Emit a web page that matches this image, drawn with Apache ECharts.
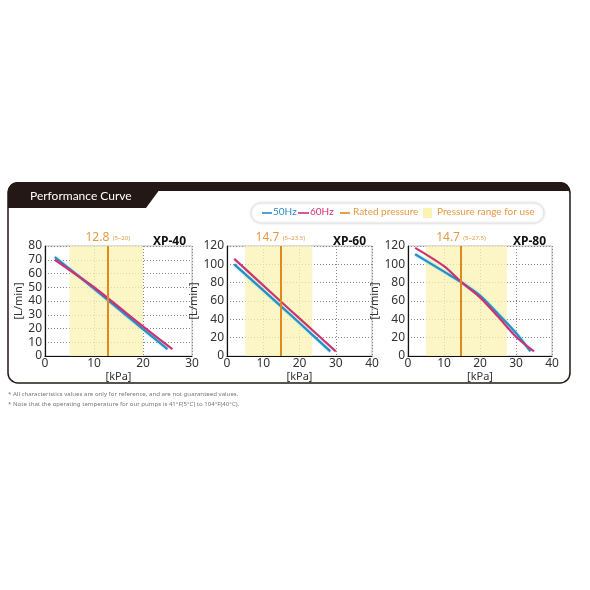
<!DOCTYPE html>
<html><head><meta charset="utf-8">
<script src="https://cdn.jsdelivr.net/npm/echarts@6/dist/echarts.min.js"></script>
<style>html,body{margin:0;padding:0;background:#fff}#c{width:590px;height:590px}</style>
</head><body><div id="c"></div>
<script>
// ---- data ----
var models = ['XP-40', 'XP-60', 'XP-80'];
var ratedPressure = [12.8, 14.7, 14.7];
var rangeText = ['5~20', '5~23.5', '5~27.5'];
var rangeStart = [5, 5, 5];
var rangeEnd = [20, 23.5, 27.5];
var xMax = [30, 40, 40];
var yMax = [80, 120, 120];
var yStep = [10, 20, 20];
var xp40_50 = [[2, 72], [10, 49], [20, 19.5], [25, 5]];
var xp40_60 = [[2, 70], [10, 50], [20, 21.5], [26, 5]];
var xp60_50 = [[2, 100], [14.7, 55], [20, 36], [28.5, 5]];
var xp60_60 = [[2, 106], [14.7, 60], [20, 41], [30, 5]];
var xp80_50 = [[2, 111], [10, 92], [15, 80], [20, 66], [25, 46], [30, 25], [34, 5]];
var xp80_60 = [[2, 118], [10, 98], [15, 80], [20, 64], [25, 43], [30, 21], [35, 5]];
var series50 = [xp40_50, xp60_50, xp80_50];
var series60 = [xp40_60, xp60_60, xp80_60];
var legendLabels = ['50Hz', '60Hz', 'Rated pressure', 'Pressure range for use'];
var footnotes = ['* All characteristics values are only for reference, and are not guaranteed values.',
                 '* Note that the operating temperature for our pumps is 41°F(5°C) to 104°F(40°C).'];

var C50 = '#2a8cc8', C60 = '#cc3371', CR = '#e0891e', CBAND = 'rgba(251,243,180,0.75)', CTXT = '#e49a45';
var FONT = 'Noto Sans';
var LFONT = 'Lato';
var grids = [
  {left: 45, top: 246, width: 147, height: 110},
  {left: 227, top: 246, width: 145, height: 110},
  {left: 408, top: 246, width: 144, height: 110}
];
var yNameGap = [17, 20, 20];

var chart = echarts.init(document.getElementById('c'));
var xAxes = [], yAxes = [], series = [], gridOpts = [];
for (var i = 0; i < 3; i++) {
  gridOpts.push(Object.assign({show: true, borderColor: '#bbb', borderWidth: 1, backgroundColor: 'transparent'}, grids[i]));
  xAxes.push({gridIndex: i, type: 'value', min: 0, max: xMax[i], interval: 10,
    name: '[kPa]', nameLocation: 'middle', nameGap: 15, nameTextStyle: {color: '#333', fontSize: 11, fontFamily: FONT},
    axisLine: {show: true, onZero: false, lineStyle: {color: '#111', width: 1.2}},
    axisTick: {show: false},
    axisLabel: {color: '#333', fontSize: 12, fontFamily: FONT, margin: 2},
    splitLine: {show: true, lineStyle: {color: '#888', type: [1, 2], width: 1}}});
  yAxes.push({gridIndex: i, type: 'value', min: 0, max: yMax[i], interval: yStep[i],
    name: '[L/min]', nameLocation: 'middle', nameGap: yNameGap[i], nameRotate: 90, nameTextStyle: {color: '#333', fontSize: 11, fontFamily: FONT},
    axisLine: {show: true, lineStyle: {color: '#111', width: 1.2}},
    axisTick: {show: false},
    axisLabel: {color: '#333', fontSize: 12, fontFamily: FONT, margin: 3},
    splitLine: {show: true, lineStyle: {color: '#888', type: [1, 2], width: 1}}});
  series.push({type: 'line', xAxisIndex: i, yAxisIndex: i, data: series50[i], symbol: 'none', smooth: i === 2 ? 0.3 : 0.15,
    lineStyle: {color: C50, width: 2.2, shadowColor: 'rgba(80,210,230,0.8)', shadowBlur: 2}, z: 3,
    markArea: {silent: true, itemStyle: {color: CBAND}, data: [[{xAxis: rangeStart[i]}, {xAxis: rangeEnd[i]}]]},
    markLine: {silent: true, symbol: 'none', lineStyle: {color: CR, width: 2, type: 'solid'},
      label: {show: true, position: 'end', distance: 2, formatter: '{a|' + ratedPressure[i] + '} {b|(' + rangeText[i] + ')}',
        rich: {a: {color: CTXT, fontSize: 12, fontFamily: FONT}, b: {color: CTXT, fontSize: 6, fontFamily: FONT}}},
      data: [{xAxis: ratedPressure[i]}]}});
  series.push({type: 'line', xAxisIndex: i, yAxisIndex: i, data: series60[i], symbol: 'none', smooth: i === 2 ? 0.3 : 0.15,
    lineStyle: {color: C60, width: 2.2}, z: 4});
}

var titles = [];
for (var j = 0; j < 3; j++) {
  titles.push({text: models[j], right: 590 - (grids[j].left + grids[j].width) + 1, top: 231,
    textStyle: {fontSize: 12, fontWeight: 'bold', color: '#111', fontFamily: FONT}});
}

var graphics = [
  {type: 'rect', shape: {x: 8, y: 183, width: 562, height: 200, r: 10}, style: {fill: '#fff', stroke: '#231815', lineWidth: 1.5}, z: -10},
  {type: 'rect', shape: {x: 8, y: 182, width: 562, height: 9, r: [10, 10, 0, 0]}, style: {fill: '#231815'}, z: -9},
  {type: 'polygon', shape: {points: [[8, 189], [160, 189], [146, 208], [8, 208]]}, style: {fill: '#231815'}, z: -9},
  {type: 'text', x: 30, y: 190, style: {text: 'Performance Curve', fill: '#fff', font: '12px "' + LFONT + '"'}, z: -8},
  {type: 'rect', shape: {x: 251, y: 203, width: 293, height: 20, r: 10}, style: {fill: '#fff', stroke: '#e2e2e2', lineWidth: 1, shadowBlur: 3, shadowColor: 'rgba(0,0,0,0.12)'}, z: -8},
  {type: 'line', shape: {x1: 262, y1: 213, x2: 272, y2: 213}, style: {stroke: C50, lineWidth: 1.6}},
  {type: 'text', x: 273, y: 207, style: {text: legendLabels[0], fill: C50, font: '10px "' + LFONT + '"'}},
  {type: 'line', shape: {x1: 298, y1: 213, x2: 309, y2: 213}, style: {stroke: C60, lineWidth: 1.6}},
  {type: 'text', x: 310, y: 207, style: {text: legendLabels[1], fill: C60, font: '10px "' + LFONT + '"'}},
  {type: 'line', shape: {x1: 340, y1: 213, x2: 350, y2: 213}, style: {stroke: CR, lineWidth: 1.6}},
  {type: 'text', x: 353, y: 207, style: {text: legendLabels[2], fill: CTXT, font: '10px "' + LFONT + '"'}},
  {type: 'rect', shape: {x: 423, y: 208, width: 9, height: 10}, style: {fill: 'rgba(251,243,180,1)'}},
  {type: 'text', x: 437, y: 207, style: {text: legendLabels[3], fill: CTXT, font: '10px "' + LFONT + '"'}},
  {type: 'text', x: 8, y: 391, style: {text: footnotes[0], fill: '#777', font: '6.1px "' + FONT + '"'}},
  {type: 'text', x: 8, y: 401, style: {text: footnotes[1], fill: '#777', font: '6.1px "' + FONT + '"'}}
];

chart.setOption({
  animation: false,
  backgroundColor: '#fff',
  title: titles,
  grid: gridOpts,
  xAxis: xAxes,
  yAxis: yAxes,
  series: series,
  graphic: graphics
});
</script></body></html>
